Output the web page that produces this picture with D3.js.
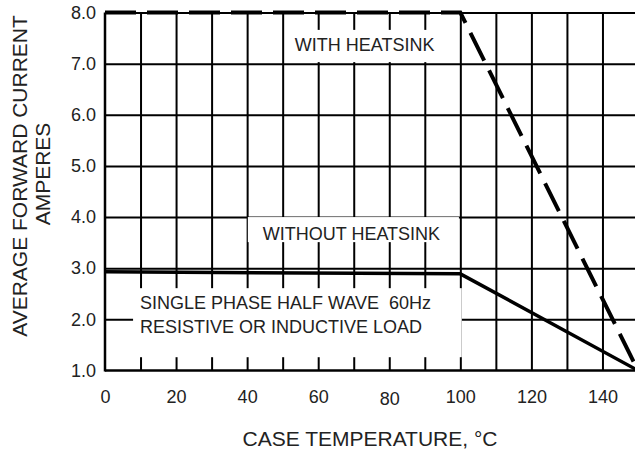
<!DOCTYPE html>
<html>
<head>
<meta charset="utf-8">
<script src="https://cdn.jsdelivr.net/npm/d3@7"></script>
<style>
  body { margin: 0; background: #fff; }
  text { font-family: "Liberation Sans", Arial, sans-serif; fill: #222; }
</style>
</head>
<body>
<div id="chart"></div>
<script>
// curve data (case temperature, °C -> amperes)
const withHeatsinkTemp = [0, 100, 150]
const withHeatsinkAmps = [8.0, 8.0, 1.0]
const withoutHeatsinkTemp = [0, 100, 150]
const withoutHeatsinkAmps = [2.93, 2.89, 1.0]

const xLabelTicks = [0, 20, 40, 60, 80, 100, 120, 140]
const yLabelTicks = [1, 2, 3, 4, 5, 6, 7, 8]
const xGridTicks = [10, 20, 30, 40, 50, 60, 70, 80, 90, 100, 110, 120, 130, 140]
const yGridTicks = [2, 3, 4, 5, 6, 7, 8]

const W = 635, H = 452

const svg = d3.select("#chart")
  .append("svg")
    .attr("width", W)
    .attr("height", H)
    .style("background", "#fff")

const x = d3.scaleLinear().domain([0, 150]).range([105, 638])
const y = d3.scaleLinear().domain([1, 8]).range([370.5, 12.5])

const plotW = x(150) - x(0)
const plotH = y(1) - y(8)

// grid
svg.append("g")
  .attr("transform", `translate(0,${y(1)})`)
  .call(d3.axisBottom(x).tickValues(xGridTicks).tickSize(-plotH).tickFormat(""))
  .call(g => g.select(".domain").remove())
  .call(g => g.selectAll("line").attr("stroke", "#000").attr("stroke-width", 2))

svg.append("g")
  .attr("transform", `translate(${x(0)},0)`)
  .call(d3.axisLeft(y).tickValues(yGridTicks).tickSize(-plotW).tickFormat(""))
  .call(g => g.select(".domain").remove())
  .call(g => g.selectAll("line").attr("stroke", "#000").attr("stroke-width", 2))

// white label boxes that break the grid
const boxes = [
  [51.2, 97, 7.66, 7.03],
  [40.2, 99.6, 4.0, 3.51],
  [7.9, 100.4, 2.61, 1.26]
]
svg.append("g")
  .selectAll("rect")
  .data(boxes)
  .join("rect")
    .attr("x", d => x(d[0]))
    .attr("width", d => x(d[1]) - x(d[0]))
    .attr("y", d => y(d[2]))
    .attr("height", d => y(d[3]) - y(d[2]))
    .attr("fill", "#fff")

// axis lines
svg.append("line")
  .attr("x1", x(0)).attr("x2", x(0))
  .attr("y1", y(8)).attr("y2", y(1) + 1)
  .attr("stroke", "#000").attr("stroke-width", 2.5)
svg.append("line")
  .attr("x1", x(0)).attr("x2", x(150))
  .attr("y1", y(1)).attr("y2", y(1))
  .attr("stroke", "#000").attr("stroke-width", 2.5)

// tick labels
svg.append("g")
  .attr("transform", `translate(0,${y(1)})`)
  .call(d3.axisBottom(x).tickValues(xLabelTicks).tickSize(0).tickPadding(19.5))
  .call(g => g.select(".domain").remove())
  .call(g => g.selectAll("text")
    .attr("font-size", 18)
    .attr("font-family", null)
    .attr("fill", null))
  .call(g => g.selectAll(".tick").filter(d => d === 80).select("text").attr("dy", "0.86em"))

svg.append("g")
  .attr("transform", `translate(${x(0)},0)`)
  .call(d3.axisLeft(y).tickValues(yLabelTicks).tickSize(0).tickPadding(9).tickFormat(d3.format(".1f")))
  .call(g => g.select(".domain").remove())
  .call(g => g.selectAll("text")
    .attr("font-size", 18)
    .attr("font-family", null)
    .attr("fill", null))

// curves
const line = d3.line().x(d => x(d[0])).y(d => y(d[1]))

svg.append("path")
  .datum(withoutHeatsinkTemp.map((t, i) => [t, withoutHeatsinkAmps[i]]))
  .attr("d", line)
  .attr("fill", "none")
  .attr("stroke", "#000")
  .attr("stroke-width", 3.5)
  .attr("stroke-linejoin", "round")

svg.append("path")
  .datum(withHeatsinkTemp.map((t, i) => [t, withHeatsinkAmps[i]]))
  .attr("d", line)
  .attr("fill", "none")
  .attr("stroke", "#000")
  .attr("stroke-width", 4)
  .attr("stroke-dasharray", "31,11")

// annotations
const notes = [
  ["WITH HEATSINK", 53.4, 7.24],
  ["WITHOUT HEATSINK", 44.4, 3.55],
  ["SINGLE PHASE HALF WAVE  60Hz", 9.85, 2.20],
  ["RESISTIVE OR INDUCTIVE LOAD", 9.85, 1.73]
]
svg.append("g")
  .selectAll("text")
  .data(notes)
  .join("text")
    .attr("x", d => x(d[1]))
    .attr("y", d => y(d[2]))
    .attr("font-size", 18)
    .style("white-space", "pre")
    .text(d => d[0])

// axis titles
svg.append("text")
  .attr("x", 370)
  .attr("y", 446)
  .attr("text-anchor", "middle")
  .attr("font-size", 21)
  .text("CASE TEMPERATURE, °C")

svg.append("text")
  .attr("transform", "translate(27,176) rotate(-90)")
  .attr("text-anchor", "middle")
  .attr("font-size", 21)
  .text("AVERAGE FORWARD CURRENT")

svg.append("text")
  .attr("transform", "translate(50,174) rotate(-90)")
  .attr("text-anchor", "middle")
  .attr("font-size", 21)
  .text("AMPERES")
</script>
</body>
</html>
